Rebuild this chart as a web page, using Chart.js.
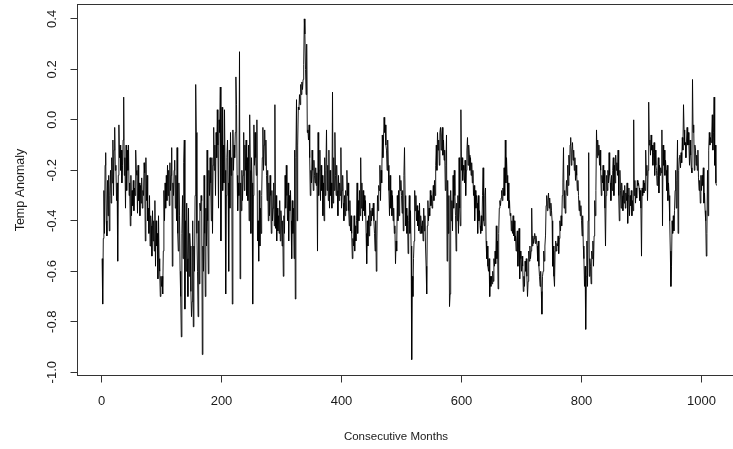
<!DOCTYPE html>
<html>
<head>
<meta charset="utf-8">
<script src="https://cdn.jsdelivr.net/npm/chart.js@4.4.1/dist/chart.umd.min.js"></script>
<style>
html,body{margin:0;padding:0;background:#fff;overflow:hidden;width:733px;height:449px}
#wrap{width:792px;height:449px}
</style>
</head>
<body>
<div id="wrap"><canvas id="c" width="792" height="449"></canvas></div>
<script>
const xTicks = [0, 200, 400, 600, 800, 1000];
const xTickLabels = ['0', '200', '400', '600', '800', '1000'];
const yTicks = [-1.0, -0.8, -0.6, -0.4, -0.2, 0.0, 0.2, 0.4];
const yTickLabels = ['-1.0', '-0.8', '-0.6', '-0.4', '-0.2', '0.0', '0.2', '0.4'];
const xTitle = 'Consecutive Months';
const yTitle = 'Temp Anomaly';

const anomaly0001_0100 = [
-0.55,-0.73,-0.47,-0.28,-0.45,-0.18,-0.13,-0.40,-0.46,-0.24,
-0.38,-0.22,-0.44,-0.30,-0.20,-0.33,-0.15,-0.25,-0.08,-0.30,
-0.12,-0.03,-0.20,-0.18,-0.32,-0.25,-0.56,-0.22,-0.02,-0.15,
-0.10,-0.20,-0.12,-0.25,-0.18,-0.08,0.09,-0.22,-0.15,-0.35,
-0.10,-0.28,-0.12,-0.20,-0.10,-0.30,-0.25,-0.42,-0.22,-0.38,
-0.28,-0.34,-0.24,-0.36,-0.27,-0.30,-0.12,-0.20,-0.22,-0.37,
-0.18,-0.32,-0.25,-0.38,-0.26,-0.33,-0.23,-0.35,-0.28,-0.30,
-0.17,-0.21,-0.48,-0.15,-0.32,-0.22,-0.40,-0.35,-0.45,-0.30,
-0.50,-0.38,-0.42,-0.54,-0.36,-0.48,-0.40,-0.52,-0.32,-0.58,
-0.40,-0.50,-0.45,-0.63,-0.38,-0.55,-0.60,-0.70,-0.62,-0.66];
const anomaly0101_0200 = [
-0.62,-0.69,-0.52,-0.28,-0.40,-0.25,-0.35,-0.22,-0.32,-0.18,
-0.30,-0.20,-0.34,-0.17,-0.28,-0.22,-0.11,-0.58,-0.25,-0.30,
-0.20,-0.16,-0.35,-0.22,-0.40,-0.11,-0.45,-0.52,-0.25,-0.38,
-0.60,-0.70,-0.86,-0.45,-0.30,-0.55,-0.17,-0.08,-0.75,-0.40,
-0.60,-0.33,-0.55,-0.70,-0.35,-0.62,-0.45,-0.50,-0.68,-0.78,
-0.72,-0.40,-0.82,-0.50,-0.60,-0.30,0.14,-0.05,-0.45,-0.60,
-0.78,-0.40,-0.65,-0.33,-0.36,-0.30,-0.32,-0.93,-0.50,-0.60,
-0.22,-0.45,-0.70,-0.35,-0.50,-0.12,-0.40,-0.61,-0.20,-0.30,
-0.15,-0.25,-0.40,-0.15,-0.45,-0.18,-0.03,-0.20,-0.10,-0.30,
-0.05,-0.15,0.04,-0.10,-0.35,0.00,-0.05,0.13,-0.48,-0.10];
const anomaly0201_0300 = [
0.05,-0.28,-0.10,-0.25,0.04,-0.20,-0.69,-0.30,-0.15,-0.08,
-0.25,-0.60,-0.12,-0.35,-0.05,-0.22,-0.15,-0.73,-0.04,-0.20,
-0.10,-0.15,-0.05,0.17,0.06,-0.22,-0.36,-0.25,-0.30,0.27,
-0.63,-0.25,-0.36,-0.20,-0.32,-0.22,-0.05,-0.28,-0.10,-0.20,
-0.08,-0.30,-0.15,-0.32,-0.10,-0.40,0.02,-0.20,-0.45,-0.15,
-0.25,-0.73,-0.30,-0.02,-0.18,-0.05,-0.15,-0.22,0.00,-0.48,
-0.40,-0.56,-0.28,-0.50,-0.35,-0.45,-0.30,-0.15,-0.03,-0.20,
-0.10,-0.04,-0.18,-0.08,-0.22,-0.32,-0.20,-0.40,-0.25,-0.38,
-0.22,-0.30,-0.45,-0.28,-0.40,-0.35,-0.25,-0.42,0.06,-0.43,
-0.30,-0.48,-0.35,-0.44,-0.38,-0.45,-0.32,-0.48,-0.36,-0.40];
const anomaly0301_0400 = [
-0.50,-0.40,-0.62,-0.38,-0.45,-0.22,-0.35,-0.18,-0.30,-0.40,
-0.25,-0.48,-0.30,-0.36,-0.28,-0.40,-0.55,-0.32,-0.45,-0.35,
-0.55,-0.12,-0.71,-0.15,0.08,-0.40,-0.10,0.05,0.04,0.10,
0.06,0.14,0.10,0.15,0.12,0.16,0.22,0.40,0.34,0.20,
0.10,0.30,-0.05,-0.04,-0.08,-0.02,-0.15,-0.30,-0.20,-0.25,
-0.12,-0.20,-0.28,-0.16,-0.22,-0.25,-0.19,-0.26,-0.21,-0.52,
-0.05,-0.30,-0.20,-0.12,-0.32,-0.18,-0.28,-0.22,-0.38,-0.25,
-0.40,-0.15,-0.30,-0.20,-0.04,-0.28,-0.18,-0.32,-0.12,-0.35,
-0.20,-0.30,-0.25,-0.35,0.11,-0.33,-0.15,-0.28,-0.05,-0.22,
-0.30,-0.18,-0.28,-0.38,-0.22,-0.32,-0.25,-0.30,-0.11,-0.35];
const anomaly0401_0500 = [
-0.28,-0.22,-0.33,-0.40,-0.30,-0.38,-0.28,-0.36,-0.20,-0.30,
-0.25,-0.36,-0.42,-0.32,-0.44,-0.38,-0.45,-0.55,-0.47,-0.50,
-0.38,-0.52,-0.42,-0.48,-0.40,-0.25,-0.45,-0.32,-0.40,-0.28,
-0.38,-0.15,-0.35,-0.25,-0.40,-0.28,-0.36,-0.30,-0.38,-0.32,
-0.45,-0.57,-0.40,-0.50,-0.38,-0.46,-0.33,-0.42,-0.36,-0.40,
-0.35,-0.38,-0.33,-0.40,-0.45,-0.52,-0.40,-0.60,-0.48,-0.30,
-0.36,-0.26,-0.28,-0.18,-0.32,-0.20,-0.25,-0.06,-0.15,-0.08,
0.01,-0.05,-0.02,-0.10,-0.12,-0.20,-0.08,-0.18,-0.28,-0.38,
-0.22,-0.35,-0.28,-0.38,-0.30,-0.40,-0.35,-0.45,-0.42,-0.57,
-0.48,-0.52,-0.30,-0.40,-0.28,-0.38,-0.22,-0.28,-0.24,-0.30];
const anomaly0501_0600 = [
-0.37,-0.28,-0.44,-0.22,-0.11,-0.30,-0.42,-0.35,-0.45,-0.38,
-0.53,-0.40,-0.30,-0.45,-0.36,-0.50,-0.95,-0.62,-0.70,-0.55,
-0.48,-0.28,-0.36,-0.30,-0.40,-0.34,-0.42,-0.36,-0.44,-0.33,
-0.45,-0.38,-0.42,-0.45,-0.40,-0.48,-0.35,-0.44,-0.38,-0.50,
-0.58,-0.69,-0.42,-0.32,-0.40,-0.35,-0.38,-0.28,-0.34,-0.30,
-0.35,-0.31,-0.26,-0.32,-0.24,-0.30,-0.18,-0.10,-0.20,-0.05,
-0.12,-0.08,-0.18,-0.05,-0.03,-0.12,-0.06,-0.03,-0.14,-0.08,
-0.16,-0.12,-0.28,-0.18,-0.06,-0.56,-0.24,-0.45,-0.30,-0.74,
-0.69,-0.28,-0.40,-0.32,-0.44,-0.22,-0.35,-0.20,-0.30,-0.38,
-0.52,-0.33,-0.40,-0.30,-0.45,-0.15,-0.35,-0.42,0.04,-0.20];
const anomaly0601_0700 = [
-0.15,-0.24,-0.18,-0.20,-0.25,-0.16,-0.30,-0.20,-0.12,-0.07,
-0.18,-0.10,-0.14,-0.20,-0.15,-0.22,-0.17,-0.25,-0.20,-0.30,
-0.26,-0.40,-0.28,-0.35,-0.30,-0.33,-0.45,-0.30,-0.40,-0.36,
-0.42,-0.45,-0.38,-0.44,-0.30,-0.19,-0.40,-0.42,-0.30,-0.27,
-0.48,-0.55,-0.50,-0.58,-0.60,-0.55,-0.70,-0.62,-0.66,-0.62,
-0.65,-0.60,-0.64,-0.55,-0.58,-0.52,-0.57,-0.42,-0.55,-0.48,
-0.67,-0.45,-0.35,-0.32,-0.34,-0.31,-0.28,-0.32,-0.27,-0.30,
-0.19,-0.30,-0.08,-0.25,-0.15,-0.22,-0.32,-0.25,-0.35,-0.32,
-0.38,-0.37,-0.44,-0.40,-0.45,-0.38,-0.46,-0.40,-0.48,-0.46,
-0.52,-0.48,-0.44,-0.58,-0.50,-0.43,-0.63,-0.52,-0.55,-0.60];
const anomaly0701_0800 = [
-0.54,-0.58,-0.68,-0.62,-0.66,-0.56,-0.60,-0.55,-0.62,-0.70,
-0.64,-0.52,-0.56,-0.50,-0.55,-0.52,-0.35,-0.50,-0.46,-0.49,
-0.47,-0.45,-0.49,-0.46,-0.48,-0.50,-0.56,-0.48,-0.58,-0.62,
-0.66,-0.60,-0.68,-0.77,-0.62,-0.60,-0.52,-0.56,-0.50,-0.46,
-0.34,-0.30,-0.36,-0.32,-0.29,-0.35,-0.31,-0.38,-0.33,-0.36,
-0.40,-0.58,-0.50,-0.62,-0.66,-0.52,-0.48,-0.52,-0.49,-0.50,
-0.46,-0.53,-0.47,-0.40,-0.44,-0.38,-0.42,-0.30,-0.25,-0.11,
-0.35,-0.28,-0.37,-0.30,-0.24,-0.30,-0.18,-0.26,-0.14,-0.22,
-0.10,-0.07,-0.18,-0.12,-0.09,-0.16,-0.12,-0.20,-0.15,-0.24,
-0.18,-0.22,-0.28,-0.24,-0.30,-0.36,-0.32,-0.38,-0.34,-0.40];
const anomaly0801_0900 = [
-0.46,-0.38,-0.50,-0.55,-0.66,-0.58,-0.83,-0.62,-0.48,-0.66,
-0.40,-0.13,-0.62,-0.55,-0.58,-0.65,-0.52,-0.55,-0.48,-0.58,
-0.46,-0.32,-0.38,-0.28,-0.04,-0.15,-0.08,-0.14,-0.10,-0.18,
-0.12,-0.20,-0.30,-0.22,-0.25,-0.18,-0.28,-0.20,-0.35,-0.50,
-0.30,-0.22,-0.28,-0.20,-0.25,-0.13,-0.22,-0.25,-0.32,-0.22,
-0.28,-0.20,-0.15,-0.30,-0.18,-0.25,-0.14,-0.20,-0.17,-0.22,
-0.12,-0.30,-0.40,-0.20,-0.28,-0.35,-0.25,-0.30,-0.36,-0.28,
-0.33,-0.26,-0.35,-0.29,-0.32,-0.25,-0.41,-0.30,-0.27,-0.38,
-0.30,-0.34,-0.28,-0.38,-0.32,-0.36,0.00,-0.30,-0.24,-0.33,
-0.27,-0.31,-0.24,-0.26,-0.25,-0.27,-0.32,-0.28,-0.35,-0.54];
const anomaly0901_1000 = [
-0.27,-0.30,-0.24,-0.29,-0.25,-0.28,-0.12,-0.22,-0.18,-0.32,
-0.20,0.07,-0.10,-0.08,-0.14,-0.06,-0.12,-0.10,-0.18,-0.13,
-0.09,-0.22,-0.12,-0.18,-0.20,-0.26,-0.22,-0.15,-0.29,-0.18,
-0.22,-0.19,-0.21,-0.04,-0.42,-0.10,-0.18,-0.12,-0.22,-0.16,
-0.20,-0.28,-0.18,-0.32,-0.25,-0.30,-0.40,-0.52,-0.66,-0.58,
-0.40,-0.45,-0.38,-0.44,-0.36,-0.28,-0.20,-0.35,-0.24,-0.08,
-0.45,-0.20,-0.15,-0.14,-0.19,-0.13,-0.17,-0.07,-0.12,0.06,
-0.04,-0.10,-0.09,-0.15,-0.08,-0.03,-0.10,-0.05,-0.10,-0.18,
-0.08,-0.14,-0.19,-0.21,0.16,-0.05,-0.02,-0.20,-0.10,-0.12,
-0.18,-0.14,-0.20,-0.12,-0.23,-0.28,-0.24,-0.33,-0.22,-0.28];
const anomaly1001_1025 = [
-0.22,-0.26,-0.19,-0.33,-0.29,-0.36,-0.40,-0.54,-0.45,-0.20,
-0.38,-0.12,-0.05,-0.10,-0.07,-0.09,-0.06,0.02,-0.12,-0.05,
0.09,-0.18,-0.10,-0.25,-0.26];

const tempAnomaly = [].concat(
  anomaly0001_0100, anomaly0101_0200, anomaly0201_0300, anomaly0301_0400,
  anomaly0401_0500, anomaly0501_0600, anomaly0601_0700, anomaly0701_0800,
  anomaly0801_0900, anomaly0901_1000, anomaly1001_1025);
const months = tempAnomaly.map((_, i) => i + 1);

const FONT = "'Liberation Sans', Arial, Helvetica, sans-serif";
const TEXT = '#1a1a1a';
const LINE = '#333';

const boxPlugin = {
  id: 'rbox',
  afterDatasetsDraw(chart) {
    const a = chart.chartArea, ctx = chart.ctx;
    ctx.save();
    ctx.strokeStyle = LINE;
    ctx.lineWidth = 1;
    ctx.strokeRect(a.left, a.top, a.right - a.left, a.bottom - a.top);
    ctx.restore();
  }
};

function noPad(s) { s.paddingTop = 0; s.paddingBottom = 0; s.paddingLeft = 0; s.paddingRight = 0; }

new Chart(document.getElementById('c'), {
  type: 'line',
  data: {
    datasets: [{
      data: months.map((m, i) => ({ x: m, y: tempAnomaly[i] })),
      borderColor: '#000',
      borderWidth: 0.9,
      pointRadius: 0,
      tension: 0,
      fill: false
    }]
  },
  options: {
    responsive: false,
    animation: false,
    devicePixelRatio: 1,
    layout: { padding: { left: 0, top: 4.5, right: 0, bottom: 0 } },
    plugins: {
      legend: { display: false },
      tooltip: { enabled: false },
      title: {
        display: true, position: 'bottom', fullSize: true, text: xTitle,
        color: TEXT, font: { family: FONT, size: 11.5, weight: 'normal', lineHeight: 1.2 },
        padding: { top: 0, bottom: 5 }
      }
    },
    scales: {
      x: {
        type: 'linear', position: 'bottom', min: -40, max: 1066,
        afterBuildTicks: s => { s.ticks = xTicks.map(v => ({ value: v })); },
        afterFit: s => { s.height = 449 - 375.5 - (11.5 * 1.2 + 5); noPad(s); },
        grid: { display: true, drawOnChartArea: false, drawTicks: true, tickLength: 7, color: LINE, lineWidth: 1 },
        border: { display: false },
        ticks: {
          color: TEXT, font: { family: FONT, size: 13 }, padding: 11,
          minRotation: 0, maxRotation: 0, autoSkip: false,
          callback: (v, i) => xTickLabels[i]
        },
        title: { display: false }
      },
      y: {
        type: 'linear', position: 'left', min: -1.013, max: 0.457,
        afterBuildTicks: s => { s.ticks = yTicks.map(v => ({ value: v })); },
        afterFit: s => { s.width = 77.5; noPad(s); },
        grid: { display: true, drawOnChartArea: false, drawTicks: true, tickLength: 7, color: LINE, lineWidth: 1 },
        border: { display: false },
        ticks: {
          color: TEXT, font: { family: FONT, size: 13 }, padding: 7,
          minRotation: 90, maxRotation: 90, crossAlign: 'center', autoSkip: false,
          callback: (v, i) => yTickLabels[i]
        },
        title: { display: true, text: yTitle, color: TEXT, font: { family: FONT, size: 12.5 }, padding: { top: 12.8, bottom: 0 } }
      },
      yRight: {
        type: 'linear', position: 'right', display: true,
        afterFit: s => { s.width = 792 - 741.1; noPad(s); },
        grid: { display: false, drawTicks: false },
        border: { display: false },
        ticks: { display: false },
        title: { display: false }
      }
    }
  },
  plugins: [boxPlugin]
});
</script>
</body>
</html>
